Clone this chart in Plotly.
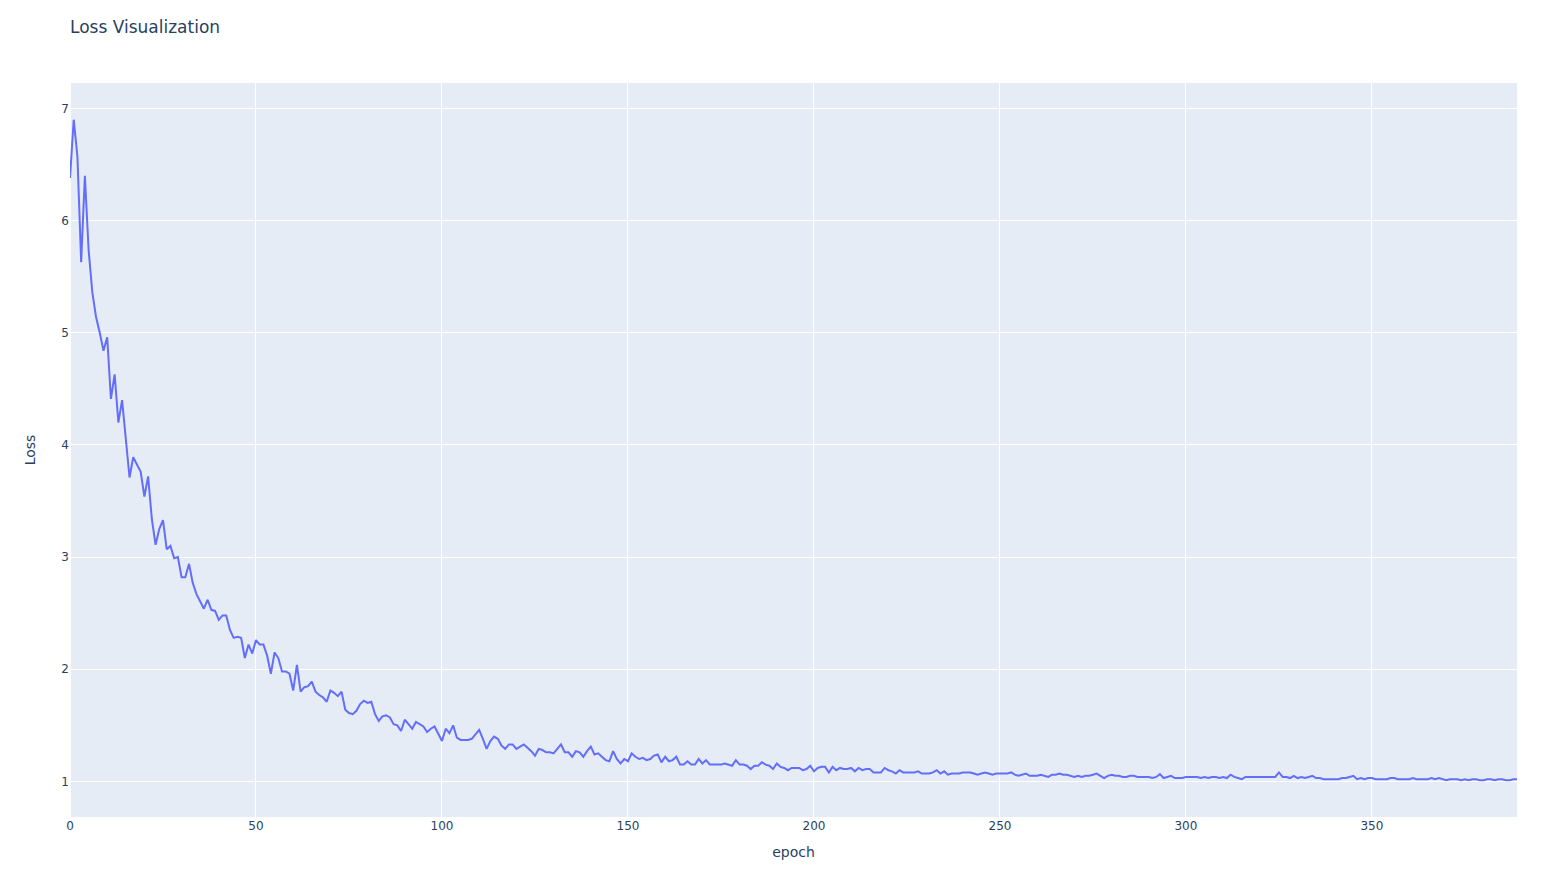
import plotly.graph_objects as go

loss = [
    6.38, 6.90, 6.57, 5.63, 6.40, 5.74, 5.36, 5.14, 5.00, 4.84,
    4.96, 4.41, 4.63, 4.20, 4.40, 4.05, 3.71, 3.89, 3.83, 3.76,
    3.54, 3.72, 3.34, 3.11, 3.25, 3.33, 3.07, 3.10, 2.99, 3.00,
    2.82, 2.82, 2.94, 2.77, 2.67, 2.60, 2.54, 2.62, 2.53, 2.52,
    2.44, 2.48, 2.48, 2.35, 2.28, 2.29, 2.28, 2.10, 2.22, 2.14,
    2.26, 2.22, 2.22, 2.12, 1.96, 2.15, 2.10, 1.98, 1.98, 1.96,
    1.81, 2.04, 1.80, 1.84, 1.85, 1.89, 1.80, 1.77, 1.75, 1.71,
    1.81, 1.79, 1.76, 1.80, 1.64, 1.61, 1.60, 1.63, 1.69, 1.72,
    1.70, 1.71, 1.60, 1.54, 1.58, 1.59, 1.57, 1.51, 1.50, 1.45,
    1.55, 1.51, 1.47, 1.53, 1.51, 1.49, 1.44, 1.47, 1.49, 1.42,
    1.36, 1.47, 1.43, 1.50, 1.39, 1.37, 1.37, 1.37, 1.38, 1.42,
    1.46, 1.38, 1.29, 1.36, 1.40, 1.38, 1.32, 1.29, 1.33, 1.33,
    1.29, 1.31, 1.33, 1.30, 1.27, 1.23, 1.29, 1.28, 1.26, 1.26,
    1.25, 1.29, 1.33, 1.26, 1.26, 1.22, 1.27, 1.26, 1.22, 1.27,
    1.31, 1.24, 1.25, 1.22, 1.19, 1.18, 1.27, 1.20, 1.16, 1.20,
    1.18, 1.25, 1.22, 1.20, 1.21, 1.19, 1.20, 1.23, 1.24, 1.17,
    1.22, 1.18, 1.19, 1.22, 1.15, 1.15, 1.18, 1.15, 1.15, 1.20,
    1.16, 1.19, 1.15, 1.15, 1.15, 1.15, 1.16, 1.15, 1.14, 1.19,
    1.15, 1.15, 1.14, 1.11, 1.14, 1.14, 1.17, 1.15, 1.14, 1.11,
    1.16, 1.13, 1.12, 1.10, 1.12, 1.12, 1.12, 1.10, 1.11, 1.14,
    1.09, 1.12, 1.13, 1.13, 1.08, 1.13, 1.10, 1.12, 1.11, 1.11,
    1.12, 1.09, 1.12, 1.10, 1.11, 1.11, 1.08, 1.08, 1.08, 1.12,
    1.10, 1.09, 1.07, 1.10, 1.08, 1.08, 1.08, 1.08, 1.09, 1.07,
    1.07, 1.07, 1.08, 1.10, 1.07, 1.09, 1.06, 1.07, 1.07, 1.07,
    1.08, 1.08, 1.08, 1.07, 1.06, 1.07, 1.08, 1.07, 1.06, 1.07,
    1.07, 1.07, 1.07, 1.08, 1.06, 1.05, 1.06, 1.07, 1.05, 1.05,
    1.05, 1.06, 1.05, 1.04, 1.06, 1.06, 1.07, 1.06, 1.06, 1.05,
    1.04, 1.05, 1.04, 1.05, 1.05, 1.06, 1.07, 1.05, 1.03, 1.05,
    1.06, 1.05, 1.05, 1.04, 1.04, 1.05, 1.05, 1.04, 1.04, 1.04,
    1.04, 1.03, 1.04, 1.065, 1.03, 1.04, 1.05, 1.03, 1.03, 1.03,
    1.04, 1.04, 1.04, 1.04, 1.03, 1.04, 1.03, 1.04, 1.04, 1.03,
    1.04, 1.03, 1.06, 1.04, 1.03, 1.02, 1.04, 1.04, 1.04, 1.04,
    1.04, 1.04, 1.04, 1.04, 1.04, 1.08, 1.04, 1.04, 1.03, 1.05,
    1.03, 1.04, 1.03, 1.04, 1.05, 1.03, 1.03, 1.02, 1.02, 1.02,
    1.02, 1.02, 1.03, 1.03, 1.04, 1.05, 1.02, 1.03, 1.02, 1.03,
    1.03, 1.02, 1.02, 1.02, 1.02, 1.03, 1.03, 1.02, 1.02, 1.02,
    1.02, 1.03, 1.02, 1.02, 1.02, 1.02, 1.03, 1.02, 1.03, 1.02,
    1.01, 1.02, 1.02, 1.02, 1.01, 1.02, 1.01, 1.02, 1.02, 1.01,
    1.01, 1.02, 1.02, 1.01, 1.02, 1.02, 1.01, 1.01, 1.02, 1.02,
]
epochs = list(range(len(loss)))

W, H = 1547, 872

fig = go.Figure()
fig.add_trace(go.Scatter(x=epochs, y=loss, mode="lines", name="Loss",
                         line=dict(color="#636efa", width=2)))
fig.update_layout(
    template="plotly",
    width=W, height=H,
    font=dict(family="DejaVu Sans"),
    title=dict(text="Loss Visualization", x=62 / W, xanchor="left",
               y=1 - 19 / H, yanchor="middle"),
    xaxis=dict(title=dict(text="epoch")),
    yaxis=dict(title=dict(text="Loss", standoff=22), automargin=True),
    margin=dict(l=62, r=38, t=75, b=63),
    showlegend=False,
)
fig.write_html("out.html")
